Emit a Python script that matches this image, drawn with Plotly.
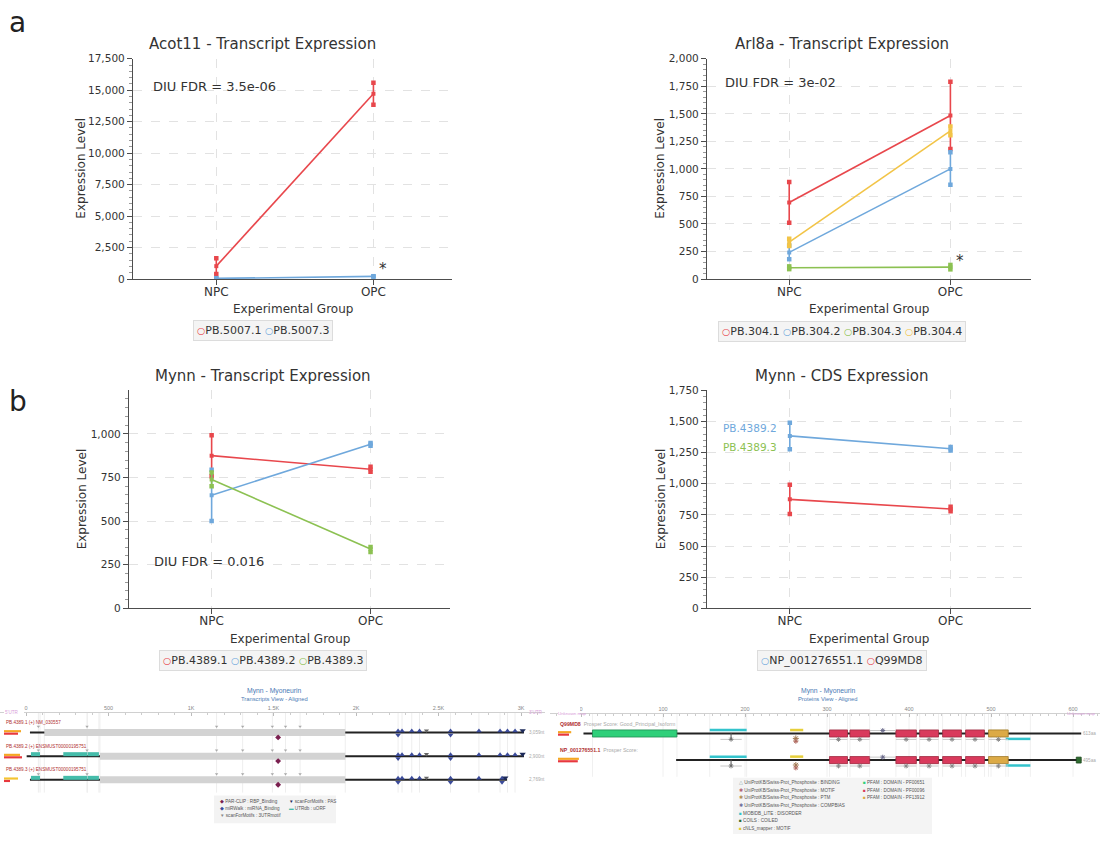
import plotly.graph_objects as go

W, H = 1100, 841


def PX(x):
    return x / W


def PY(y):
    return 1 - y / H


FONT = "DejaVu Sans"
SMALL = "Liberation Sans"
RED, BLUE, GREEN, YELLOW = "#e8474c", "#6fa8dc", "#8cc152", "#f2c447"
INK = "#333333"
AXIS = "#4d4d4d"
GRID = "#e2e2e2"

# ---------------- expression data ----------------
GROUPS = ["NPC", "OPC"]

ACOT11_NAMES = ["PB.5007.1", "PB.5007.3"]
ACOT11_COLORS = [RED, BLUE]
ACOT11_MEAN = [[1025, 14725], [50, 210]]
ACOT11_LO = [[400, 13850], [30, 195]]
ACOT11_HI = [[1650, 15600], [70, 225]]

ARL8A_NAMES = ["PB.304.1", "PB.304.2", "PB.304.3", "PB.304.4"]
ARL8A_COLORS = [RED, BLUE, GREEN, YELLOW]
ARL8A_MEAN = [[695, 1485], [242, 1000], [103, 108], [335, 1345]]
ARL8A_LO = [[510, 1180], [180, 855], [90, 88], [300, 1305]]
ARL8A_HI = [[880, 1790], [305, 1150], [115, 128], [365, 1385]]

MYNN_NAMES = ["PB.4389.1", "PB.4389.2", "PB.4389.3"]
MYNN_COLORS = [RED, BLUE, GREEN]
MYNN_MEAN = [[875, 797], [648, 940], [738, 340]]
MYNN_LO = [[757, 783], [500, 932], [700, 322]]
MYNN_HI = [[992, 812], [795, 948], [778, 352]]

CDS_NAMES = ["NP_001276551.1", "Q99MD8"]
CDS_COLORS = [BLUE, RED]
CDS_MEAN = [[1385, 1282], [875, 797]]
CDS_LO = [[1278, 1268], [757, 780]]
CDS_HI = [[1491, 1295], [992, 815]]

# ---------------- transcript track data (nt) ----------------
TX_NAMES = ["PB.4389.1 (+) NM_030557", "PB.4389.2 (+) ENSMUST00000195751",
            "PB.4389.3 (+) ENSMUST00000195751"]
TX_ROWS = [0, 1, 2]
TX_START = [24, 4, 24]
TX_END = [3018, 3018, 2915]
TX_CDS_START = [111, 448, 448]
TX_CDS_END = [1935, 1935, 1935]
TX_LENGTH = ["3,059nt", "2,900nt", "2,769nt"]
TX_BAR_TOP = [0.85, 0.8, 0.7]
TX_BAR_BOT = [0.7, 0.9, 0.3]
UORF_ROW = [1, 1, 1, 2, 2, 2]
UORF_START = [30, 226, 374, 30, 226, 374]
UORF_END = [85, 372, 442, 85, 372, 442]
MOTIF_NT = [75, 370, 1155, 1313, 1493, 1573, 1661]
RBP_NT = [1528, 1528, 1528]
MIRNA_NT = [[2255, 2279, 2338, 2385, 2573, 2745, 2873, 2918, 2964],
            [2255, 2279, 2338, 2385, 2573, 2745, 2873, 2918, 2964],
            [2255, 2279, 2338, 2385, 2573, 2745, 2885]]
MIRNA_DOUBLE = [[2255, 2573], [2255, 2573], [2255, 2573, 2885]]
UTRMOTIF_NT = [2427, 2427, 2427]
PAS_NT = [3010, 3010, 2905]
TX_TICKS = [0, 500, 1000, 1500, 2000, 2500, 3000]
TX_TICKTEXT = ["0", "500", "1K", "1.5K", "2K", "2.5K", "3K"]

# ---------------- protein track data (aa) ----------------
PROT_NAMES = ["Q99MD8", "NP_001276551.1"]
PROT_NOTE = ["Prosper Score: Good_Principal_Isoform", "Prosper Score:"]
PROT_ROWS = [0, 1]
PROT_START = [3, 116]
PROT_END = [610, 610]
PROT_LENGTH = ["613aa", "495aa"]
PROT_BAR_TOP = [0.6, 0.95]
PROT_BAR_BOT = [0.5, 0.9]
BTB_ROW, BTB_START, BTB_END = [0], [14], [117]
ZNF_START = [303, 328, 384, 413, 441, 469]
ZNF_END = [325, 352, 409, 436, 464, 492]
PF13912_START, PF13912_END = [497], [521]
DISORDER_TOP = [157, 202]
DISORDER_BOTTOM = [518, 548]
CNLS = [255, 271]
COILS = [604, 610]
PTM_AA = [262]
COMPBIAS_AA = [352, 368, 384]
BINDING_AA = [170, 183, 196]
PROT_TICKS = [0, 100, 200, 300, 400, 500, 600]

fig = go.Figure()
ann = []
shapes = []
lay = {}


def akey(n, a):
    return a + "axis" if n == 1 else f"{a}axis{n}"


def tref(n, a):
    return a if n == 1 else f"{a}{n}"


def expr_panel(n, box, yrange, dtick, minor, xrange, names, colors, mean, lo, hi):
    x0, x1, y0, y1 = box
    xa, ya = tref(n, "x"), tref(n, "y")
    for i, nm in enumerate(names):
        c = colors[i]
        fig.add_trace(go.Scatter(x=GROUPS, y=mean[i], mode="lines+markers", name=nm,
                                 line=dict(color=c, width=1.6),
                                 marker=dict(symbol="square", size=4, color=c),
                                 xaxis=xa, yaxis=ya, showlegend=False, hoverinfo="skip"))
        for g, grp in enumerate(GROUPS):
            fig.add_trace(go.Scatter(x=[grp, grp], y=[lo[i][g], hi[i][g]], mode="lines+markers",
                                     line=dict(color=c, width=1.6),
                                     marker=dict(symbol="square", size=4.5, color=c),
                                     xaxis=xa, yaxis=ya, showlegend=False, hoverinfo="skip"))
    lay[akey(n, "x")] = dict(domain=[PX(x0), PX(x1)], anchor=ya, type="category",
                             categoryarray=GROUPS, range=xrange, showline=True, linecolor=AXIS,
                             linewidth=1.3, ticks="outside", ticklen=5, tickcolor=AXIS,
                             ticklabelstandoff=-4,
                             tickfont=dict(family=FONT, size=12, color=INK), showgrid=True,
                             gridcolor=GRID, griddash="dash", zeroline=False)
    lay[akey(n, "y")] = dict(domain=[PY(y1), PY(y0)], anchor=xa, range=yrange, tickmode="linear",
                             tick0=0, dtick=dtick, tickformat=",", showline=True, linecolor=AXIS,
                             linewidth=1.3, ticks="outside", ticklen=5, tickcolor=AXIS,
                             tickfont=dict(family=FONT, size=10.5, color=INK),
                             minor=dict(ticks="outside", ticklen=2.5, tickcolor="#999", dtick=minor),
                             showgrid=True, gridcolor=GRID, griddash="dash", zeroline=False)


def text(x, y, s, size, color=INK, family=FONT, xanchor="center", yanchor="middle", angle=0, **kw):
    ann.append(dict(x=PX(x), y=PY(y), xref="paper", yref="paper", text=s, showarrow=False,
                    xanchor=xanchor, yanchor=yanchor, textangle=angle,
                    font=dict(family=family, size=size, color=color), **kw))


def legend_box(cx, cy, names, colors):
    parts = [f'<span style="color:{c};font-size:9.5px">○</span>{nm}' for nm, c in zip(names, colors)]
    text(cx, cy, " ".join(parts), 11, bgcolor="#f4f4f4", bordercolor="#dcdcdc",
         borderwidth=1, borderpad=3)


expr_panel(1, (133, 452, 53.5, 277), [0, 17500], 2500, 500, [-0.53, 1.5],
           ACOT11_NAMES, ACOT11_COLORS, ACOT11_MEAN, ACOT11_LO, ACOT11_HI)
expr_panel(2, (707, 1031, 53.5, 277), [0, 2000], 250, 50, [-0.51, 1.5],
           ARL8A_NAMES, ARL8A_COLORS, ARL8A_MEAN, ARL8A_LO, ARL8A_HI)
expr_panel(3, (129, 450, 390, 611), [0, 1249], 250, 50, [-0.52, 1.5],
           MYNN_NAMES, MYNN_COLORS, MYNN_MEAN, MYNN_LO, MYNN_HI)
expr_panel(4, (707, 1031, 390, 611), [0, 1750], 250, 50, [-0.515, 1.5],
           CDS_NAMES, CDS_COLORS, CDS_MEAN, CDS_LO, CDS_HI)

# titles / axis titles / labels
for cx, cy, t in [(262, 39, "Acot11 - Transcript Expression"), (842, 39, "Arl8a - Transcript Expression"),
                  (263, 375, "Mynn - Transcript Expression"), (842, 375, "Mynn - CDS Expression")]:
    text(cx, cy, t, 15)
for cx, cy in [(292.5, 307.5), (869, 307.5), (290, 642), (869, 642)]:
    text(cx, cy, "Experimental Group", 12)
for cx, cy in [(81, 165), (660, 165), (82, 500.5), (661, 500.5)]:
    text(cx, cy, "Expression Level", 12, angle=-90)
text(151, 81.5, "DIU FDR = 3.5e-06", 13, xanchor="left")
text(723, 77.5, "DIU FDR = 3e-02", 13, xanchor="left")
text(152, 563.5, "DIU FDR = 0.016", 13, xanchor="left")
text(383, 267, "*", 15)
text(960, 259, "*", 15)
text(721, 428, "PB.4389.2", 10.5, color=BLUE, xanchor="left")
text(721, 447, "PB.4389.3", 10.5, color=GREEN, xanchor="left")
text(17, 17, "a", 28, color="#222")
text(18, 401, "b", 28, color="#222")
legend_box(263, 329.5, ACOT11_NAMES, ACOT11_COLORS)
legend_box(841.5, 330, ARL8A_NAMES, ARL8A_COLORS)
legend_box(263, 664, MYNN_NAMES, MYNN_COLORS)
legend_box(842, 664, CDS_NAMES, CDS_COLORS)

# ---------------- transcript track panel ----------------
TX_X0, TX_K = 26, 0.165          # px of nt 0, px per nt
TX_ROW0, TX_DY = 737, 24         # px of row 0, px per row


def tr_y(px):  # px offset -> row units
    return px / TX_DY


XT, YT = "x5", "y5"
lay["xaxis5"] = dict(domain=[0, PX(545)], anchor="free", position=PY(716), side="top",
                     range=[(0 - TX_X0) / TX_K, (545 - TX_X0) / TX_K], tickmode="array",
                     tickvals=TX_TICKS, ticktext=TX_TICKTEXT, ticks="inside", ticklen=3,
                     tickcolor="#bbbbbb", showline=True, linecolor="#d0d0d0", linewidth=1,
                     tickfont=dict(family=SMALL, size=5.5, color="#888"),
                     minor=dict(ticks="inside", ticklen=2, tickcolor="#cccccc", dtick=100),
                     showgrid=False, zeroline=False)
lay["yaxis5"] = dict(domain=[0, PY(700)], range=[(841 - TX_ROW0) / TX_DY, (700 - TX_ROW0) / TX_DY],
                     visible=False)
lay["xaxis7"] = dict(domain=[PX(4), PX(24)], anchor="y5", range=[0, 1], visible=False)

grid_nt = sorted(set(MOTIF_NT + TX_CDS_START + TX_CDS_END + MIRNA_NT[0] + UORF_END))
gx, gy = [], []
for v in grid_nt:
    gx += [v, v, None]
    gy += [tr_y(717 - TX_ROW0), tr_y(798 - TX_ROW0), None]
fig.add_trace(go.Scatter(x=gx, y=gy, mode="lines", line=dict(color="#eeeeee", width=1),
                         xaxis=XT, yaxis=YT, showlegend=False, hoverinfo="skip"))


def seg_trace(starts, ends, rows, dy, color, width, xa, ya):
    xs, ys = [], []
    for s, e, r in zip(starts, ends, rows):
        xs += [s, e, None]
        ys += [r + dy, r + dy, None]
    fig.add_trace(go.Scatter(x=xs, y=ys, mode="lines", line=dict(color=color, width=width),
                             xaxis=xa, yaxis=ya, showlegend=False, hoverinfo="skip"))


def mark_trace(xs, ys, symbol, size, color, xa, ya, line_color=None):
    fig.add_trace(go.Scatter(x=xs, y=ys, mode="markers",
                             marker=dict(symbol=symbol, size=size, color=color,
                                         line=dict(width=0.5 if line_color else 0,
                                                   color=line_color or color)),
                             xaxis=xa, yaxis=ya, showlegend=False, hoverinfo="skip"))


seg_trace(TX_START, TX_END, TX_ROWS, 0, "#222222", 2, XT, YT)
seg_trace(TX_CDS_START, TX_CDS_END, TX_ROWS, 0, "#d3d3d3", 7, XT, YT)
seg_trace(UORF_START, UORF_END, UORF_ROW, tr_y(-2), "#45bcaa", 4, XT, YT)

mx, my = [], []
for r in TX_ROWS:
    for v in MOTIF_NT:
        mx.append(v)
        my.append(r + tr_y(-6))
mark_trace(mx, my, "triangle-down", 3, "#aaaaaa", XT, YT)
mark_trace(RBP_NT, [r + tr_y(5) for r in TX_ROWS], "diamond", 4.5, "#7a1f4f", XT, YT)
mx, my = [], []
for r in TX_ROWS:
    for v in MIRNA_NT[r]:
        mx.append(v)
        my.append(r + tr_y(-1.5))
mark_trace(mx, my, "triangle-up", 5, "#3b4b9a", XT, YT)
mx, my = [], []
for r in TX_ROWS:
    for v in MIRNA_DOUBLE[r]:
        mx.append(v)
        my.append(r + tr_y(2.5))
mark_trace(mx, my, "triangle-down", 5, "#3b4b9a", XT, YT)
mark_trace(UTRMOTIF_NT, [r + tr_y(-2) for r in TX_ROWS], "triangle-down", 4.5, "#666666", XT, YT)
mark_trace(PAS_NT, [r + tr_y(-2) for r in TX_ROWS], "triangle-down", 5.5, "#1d2a5a", XT, YT)

fig.add_trace(go.Bar(x=TX_BAR_TOP, y=[r + tr_y(-1.3) for r in TX_ROWS], orientation="h",
                     width=tr_y(2.2), marker=dict(color=["#f5a623", "#f5a623", "#f4c430"], line=dict(width=0)),
                     xaxis="x7", yaxis=YT, showlegend=False, hoverinfo="skip"))
fig.add_trace(go.Bar(x=TX_BAR_BOT, y=[r + tr_y(1.2) for r in TX_ROWS], orientation="h",
                     width=tr_y(2.2), marker=dict(color="#e8383d", line=dict(width=0)),
                     xaxis="x7", yaxis=YT, showlegend=False, hoverinfo="skip"))

for r, nm, ln in zip(TX_ROWS, TX_NAMES, TX_LENGTH):
    y = TX_ROW0 + TX_DY * r
    text(4, y - 10, nm, 4.6, color="#b03030", family=SMALL, xanchor="left")
    text(527, y, ln, 4.6, color="#aaaaaa", family=SMALL, xanchor="left")
text(274, 695, "Mynn - Myoneurin", 6.8, color="#4a7ab5", family=SMALL)
text(274, 703, "Transcripts View - Aligned", 5.8, color="#4a7ab5", family=SMALL)
text(3, 717, "5'UTR", 4.6, color="#d9a0d9", family=SMALL, xanchor="left")
text(527, 717, "3'UTR", 4.6, color="#d9a0d9", family=SMALL, xanchor="left")

shapes.append(dict(type="rect", xref="paper", yref="paper", x0=PX(214), x1=PX(336),
                   y0=PY(829), y1=PY(801), fillcolor="#f3f3f3", line=dict(width=0), layer="below"))
for x, y, sym, col, lbl in [(218, 807, "◆", "#7a1f4f", "PAR-CLIP : RBP_Binding"),
                            (218, 814, "◆", "#3b4b9a", "miRWalk : miRNA_Binding"),
                            (218, 821, "▼", "#888888", "scanForMotifs : 3UTRmotif"),
                            (287, 807, "▼", "#1d2a5a", "scanForMotifs : PAS"),
                            (287, 814, "▬", "#45bcaa", "UTRdb : uORF")]:
    text(x, y, f'<span style="color:{col}">{sym}</span> {lbl}', 4.6, color="#555", family=SMALL,
         xanchor="left")

# ---------------- protein track panel ----------------
PR_X0, PR_K = 581, 0.82
PR_ROW0, PR_DY = 738, 27


def pr_y(px):
    return px / PR_DY


XP, YP = "x8", "y8"
lay["xaxis8"] = dict(domain=[PX(550), 1], anchor="free", position=PY(717), side="top",
                     range=[(550 - PR_X0) / PR_K, (1100 - PR_X0) / PR_K], tickmode="array",
                     tickvals=PROT_TICKS, ticks="inside", ticklen=3, tickcolor="#bbbbbb",
                     showline=True, linecolor="#d0d0d0", linewidth=1,
                     tickfont=dict(family=SMALL, size=5.5, color="#888"),
                     minor=dict(ticks="inside", ticklen=2, tickcolor="#cccccc", dtick=10),
                     showgrid=False, zeroline=False)
lay["yaxis8"] = dict(domain=[0, PY(700)], range=[(841 - PR_ROW0) / PR_DY, (700 - PR_ROW0) / PR_DY],
                     visible=False)
lay["xaxis9"] = dict(domain=[PX(558), PX(580)], anchor="y8", range=[0, 1], visible=False)

pgrid = sorted(set(BTB_START + BTB_END + ZNF_START + ZNF_END + PF13912_START + PF13912_END
                   + DISORDER_TOP + DISORDER_BOTTOM + [p for p in PROT_TICKS if p]))
gx, gy = [], []
for v in pgrid:
    gx += [v, v, None]
    gy += [pr_y(718 - PR_ROW0), pr_y(782 - PR_ROW0), None]
fig.add_trace(go.Scatter(x=gx, y=gy, mode="lines", line=dict(color="#f0f0f0", width=1),
                         xaxis=XP, yaxis=YP, showlegend=False, hoverinfo="skip"))

seg_trace(PROT_START, PROT_END, PROT_ROWS, 0, "#222222", 2, XP, YP)


def box_trace(starts, ends, rows, half, fill, edge):
    xs, ys = [], []
    for s, e, r in zip(starts, ends, rows):
        xs += [s, e, e, s, s, None]
        ys += [r - half, r - half, r + half, r + half, r - half, None]
    fig.add_trace(go.Scatter(x=xs, y=ys, mode="lines", fill="toself", fillcolor=fill,
                             line=dict(color=edge, width=0.8), xaxis=XP, yaxis=YP,
                             showlegend=False, hoverinfo="skip"))


half = pr_y(3.6)
box_trace(BTB_START, BTB_END, BTB_ROW, half, "#2fd07a", "#1f8a50")
for r in PROT_ROWS:
    box_trace(ZNF_START, ZNF_END, [r] * len(ZNF_START), half, "#d93a5c", "#9e2a40")
    box_trace(PF13912_START, PF13912_END, [r], half, "#dcaa46", "#a07a28")
seg_trace([DISORDER_TOP[0]] * 2, [DISORDER_TOP[1]] * 2, PROT_ROWS, pr_y(-3.5), "#33c3cc", 2.5, XP, YP)
seg_trace([DISORDER_BOTTOM[0]] * 2, [DISORDER_BOTTOM[1]] * 2, PROT_ROWS, pr_y(5.5), "#33c3cc", 2.5, XP, YP)
seg_trace([CNLS[0]] * 2, [CNLS[1]] * 2, PROT_ROWS, pr_y(-3.5), "#e6cf3a", 2.5, XP, YP)
box_trace([COILS[0]], [COILS[1]], [1], pr_y(3), "#2e6b30", "#1f4a20")

# small annotation marks under / over features
ux, uy, cx_, cy_ = [], [], [], []
for r in PROT_ROWS:
    for s, e in zip(ZNF_START + PF13912_START + [BINDING_AA[0]], ZNF_END + PF13912_END + [BINDING_AA[2]]):
        ux += [s, e, None]
        uy += [r + pr_y(6), r + pr_y(6), None]
        cx_.append((s + e) / 2)
        cy_.append(r + pr_y(6))
    ux += [COMPBIAS_AA[0], COMPBIAS_AA[2], None]
    uy += [r + pr_y(-3), r + pr_y(-3), None]
fig.add_trace(go.Scatter(x=ux, y=uy, mode="lines", line=dict(color="#c8c8c8", width=1),
                         xaxis=XP, yaxis=YP, showlegend=False, hoverinfo="skip"))
mark_trace(cx_, cy_, "asterisk-open", 4, "#888888", XP, YP)
mark_trace([COMPBIAS_AA[1]] * 2, [r + pr_y(-3) for r in PROT_ROWS], "asterisk-open", 4, "#6a6a8a", XP, YP)
mark_trace([BINDING_AA[1]] * 2, [r + pr_y(3) for r in PROT_ROWS], "line-ns-open", 5, "#555555", XP, YP)
mark_trace(PTM_AA * 2, [r + pr_y(5) for r in PROT_ROWS], "asterisk-open", 5, "#a07850", XP, YP)
mark_trace(PTM_AA * 2, [r + pr_y(8) for r in PROT_ROWS], "asterisk-open", 4, "#b06a60", XP, YP)

fig.add_trace(go.Bar(x=PROT_BAR_TOP, y=[r + pr_y(-1.3) for r in PROT_ROWS], orientation="h",
                     width=pr_y(2.2), marker=dict(color="#f5a623", line=dict(width=0)),
                     xaxis="x9", yaxis=YP, showlegend=False, hoverinfo="skip"))
fig.add_trace(go.Bar(x=PROT_BAR_BOT, y=[r + pr_y(1.2) for r in PROT_ROWS], orientation="h",
                     width=pr_y(2.2), marker=dict(color="#e8383d", line=dict(width=0)),
                     xaxis="x9", yaxis=YP, showlegend=False, hoverinfo="skip"))

for r, nm, note, ln in zip(PROT_ROWS, PROT_NAMES, PROT_NOTE, PROT_LENGTH):
    y = PR_ROW0 + PR_DY * r
    text(558, y - 10, f'<b>{nm}</b>  <span style="color:#aaaaaa">{note}</span>', 5.2,
         color="#b03030", family=SMALL, xanchor="left")
    text(1098, y, ln, 4.6, color="#aaaaaa", family=SMALL, xanchor="right")
text(828, 695, "Mynn - Myoneurin", 6.8, color="#4a7ab5", family=SMALL)
text(828, 703, "Proteins View - Aligned", 5.8, color="#4a7ab5", family=SMALL)
text(556, 718, "Unknown map", 4.4, color="#d9a0d9", family=SMALL, xanchor="left")
text(1098, 718, "Unknown map", 4.4, color="#d9a0d9", family=SMALL, xanchor="right")

shapes.append(dict(type="rect", xref="paper", yref="paper", x0=PX(733), x1=PX(932),
                   y0=PY(840), y1=PY(783), fillcolor="#f4f4f4", line=dict(width=0), layer="below"))
for x, y, sym, col, lbl in [
        (737, 788, "△", "#7aa0a0", "UniProtKB/Swiss-Prot_Phosphosite : BINDING"),
        (737, 795.7, "✱", "#b06070", "UniProtKB/Swiss-Prot_Phosphosite : MOTIF"),
        (737, 803.4, "✱", "#b08a50", "UniProtKB/Swiss-Prot_Phosphosite : PTM"),
        (737, 811.1, "✱", "#6a6a9a", "UniProtKB/Swiss-Prot_Phosphosite : COMPBIAS"),
        (737, 818.8, "■", "#33c3cc", "MOBIDB_LITE : DISORDER"),
        (737, 826.5, "■", "#2e6b30", "COILS : COILED"),
        (737, 834.2, "■", "#e0c830", "cNLS_mapper : MOTIF"),
        (861, 788, "■", "#2fd07a", "PFAM : DOMAIN - PF00651"),
        (861, 795.7, "■", "#d93a5c", "PFAM : DOMAIN - PF00096"),
        (861, 803.4, "■", "#dcaa46", "PFAM : DOMAIN - PF13912")]:
    text(x, y, f'<span style="color:{col}">{sym}</span> {lbl}', 4.6, color="#555", family=SMALL,
         xanchor="left")

fig.update_layout(width=W, height=H, margin=dict(l=0, r=0, t=0, b=0), paper_bgcolor="white",
                  plot_bgcolor="white", showlegend=False, barmode="overlay",
                  annotations=ann, shapes=shapes, **lay)
fig.write_html("out.html", config={"displayModeBar": False})
